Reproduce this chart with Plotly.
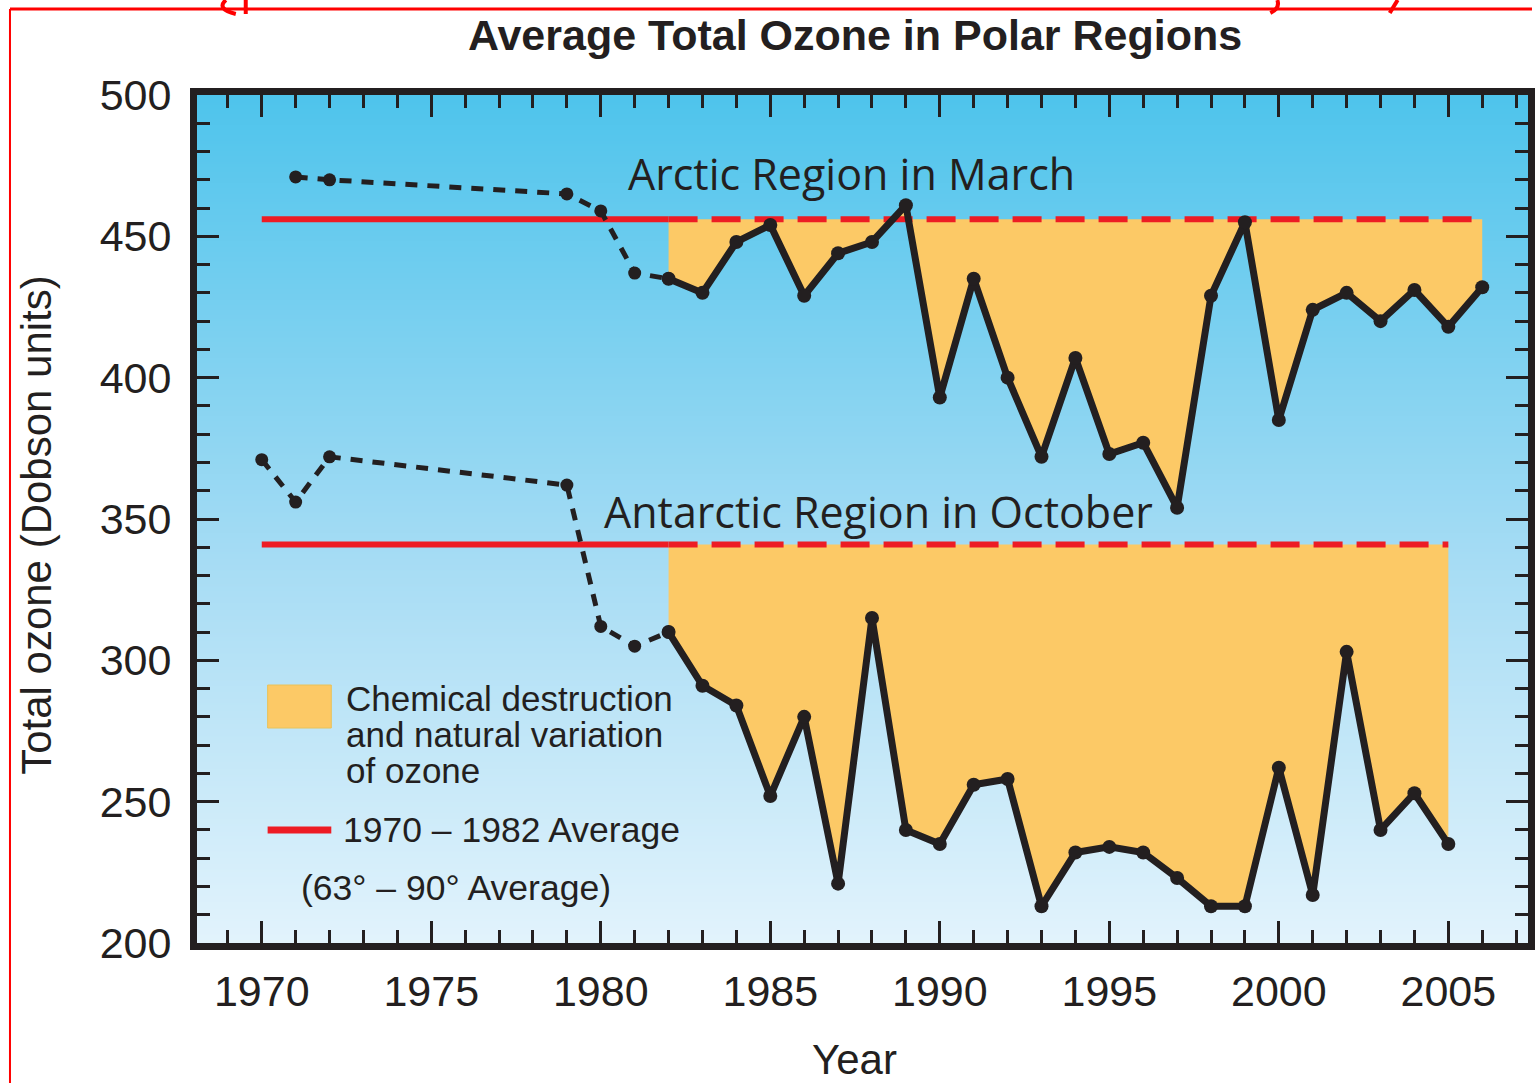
import plotly.graph_objects as go

# ---- data (Dobson units) ----
arctic_years = [1971, 1972, 1979, 1980, 1981, 1982, 1983, 1984, 1985, 1986, 1987,
                1988, 1989, 1990, 1991, 1992, 1993, 1994, 1995, 1996, 1997, 1998,
                1999, 2000, 2001, 2002, 2003, 2004, 2005, 2006]
arctic_values = [471, 470, 465, 459, 437, 435, 430, 448, 454, 429, 444,
                 448, 461, 393, 435, 400, 372, 407, 373, 377, 354, 429,
                 455, 385, 424, 430, 420, 431, 418, 432]

antarctic_years = [1970, 1971, 1972, 1979, 1980, 1981, 1982, 1983, 1984, 1985, 1986,
                   1987, 1988, 1989, 1990, 1991, 1992, 1993, 1994, 1995, 1996, 1997,
                   1998, 1999, 2000, 2001, 2002, 2003, 2004, 2005]
antarctic_values = [371, 356, 372, 362, 312, 305, 310, 291, 284, 252, 280,
                    221, 315, 240, 235, 256, 258, 213, 232, 234, 232, 223,
                    213, 213, 262, 217, 303, 240, 253, 235]

arctic_average = 456       # 1970-1982 March mean
antarctic_average = 341    # 1970-1982 October mean
average_start = 1970
recent_start = 1982        # start of the recent (solid) record

x_ticks = [1970, 1975, 1980, 1985, 1990, 1995, 2000, 2005]
y_ticks = [200, 250, 300, 350, 400, 450, 500]

# ---- styling ----
INK = "#231f20"
RED = "#ed1c24"
ORANGE = "#fcc966"
FONT = "Liberation Sans"

W, H = 1539, 1083
M_L, M_R, M_T, M_B = 197, 4, 95, 140
PW, PH = W - M_L - M_R, H - M_T - M_B


def px(x):
    """page pixel column -> paper x"""
    return (x - M_L) / PW


def py(y):
    """page pixel row -> paper y"""
    return (H - M_B - y) / PH


fig = go.Figure()

# sky-blue backdrop, darker at the top
fig.add_trace(go.Heatmap(
    x=[1968, 2008], y=[200, 500], z=[[0, 0], [1, 1]],
    zsmooth="best", showscale=False, hoverinfo="skip",
    colorscale=[[0.0, "#e2f3fc"], [0.45, "#a6dcf4"], [1.0, "#4ec4ec"]],
))


def split(years, values, start):
    early = [(x, v) for x, v in zip(years, values) if x <= start]
    late = [(x, v) for x, v in zip(years, values) if x >= start]
    return list(zip(*early)), list(zip(*late))


for years, values, avg in [(arctic_years, arctic_values, arctic_average),
                           (antarctic_years, antarctic_values, antarctic_average)]:
    (ex, ev), (lx, lv) = split(years, values, recent_start)
    # depletion area between the long-term mean and the recent record
    fig.add_trace(go.Scatter(
        x=list(lx) + [lx[-1], lx[0]], y=list(lv) + [avg, avg],
        mode="lines", fill="toself", fillcolor=ORANGE,
        line=dict(width=0), hoverinfo="skip", showlegend=False,
    ))
    # 1970-1982 average: solid over the averaging period, dashed afterwards
    fig.add_trace(go.Scatter(
        x=[average_start, recent_start], y=[avg, avg], mode="lines",
        line=dict(color=RED, width=6), showlegend=False, hoverinfo="skip",
    ))
    fig.add_trace(go.Scatter(
        x=[recent_start, lx[-1]], y=[avg, avg], mode="lines",
        line=dict(color=RED, width=6, dash="29px,14px"), showlegend=False, hoverinfo="skip",
    ))
    # early sparse record, dotted
    fig.add_trace(go.Scatter(
        x=ex, y=ev, mode="lines+markers",
        line=dict(color=INK, width=5, dash="12px,10px"),
        marker=dict(color=INK, size=13), showlegend=False,
    ))
    # recent record
    fig.add_trace(go.Scatter(
        x=lx, y=lv, mode="lines+markers",
        line=dict(color=INK, width=7),
        marker=dict(color=INK, size=14), showlegend=False,
    ))

# ---- text inside the plot ----
fig.add_annotation(x=1987.4, y=472.4, text="Arctic Region in March", showarrow=False,
                   font=dict(family="Open Sans", size=43, color=INK))
fig.add_annotation(x=1988.2, y=352.5, text="Antarctic Region in October", showarrow=False,
                   font=dict(family="Open Sans", size=43, color=INK))

# legend key
fig.add_shape(type="rect", xref="paper", yref="paper", x0=px(268), x1=px(332),
              y0=py(728), y1=py(685), fillcolor=ORANGE, line=dict(color="#e8c25a", width=1))
fig.add_shape(type="line", xref="paper", yref="paper", x0=px(268), x1=px(332),
              y0=py(830), y1=py(830), line=dict(color=RED, width=7))
for text, yy in [("Chemical destruction", 698), ("and natural variation", 734),
                 ("of ozone", 770)]:
    fig.add_annotation(xref="paper", yref="paper", x=px(345), y=py(yy), text=text,
                       showarrow=False, xanchor="left", yanchor="middle",
                       font=dict(family=FONT, size=35, color=INK))
fig.add_annotation(xref="paper", yref="paper", x=px(342), y=py(830),
                   text="1970 \u2013 1982 Average", showarrow=False,
                   xanchor="left", yanchor="middle", font=dict(family=FONT, size=35.5, color=INK))
fig.add_annotation(xref="paper", yref="paper", x=px(300), y=py(888),
                   text="(63\u00b0 \u2013 90\u00b0 Average)", showarrow=False,
                   xanchor="left", yanchor="middle", font=dict(family=FONT, size=35.5, color=INK))

# ---- titles ----
fig.add_annotation(xref="paper", yref="paper", x=px(858), y=py(35),
                   xanchor="center", yanchor="middle",
                   text="<b>Average Total Ozone in Polar Regions</b>", showarrow=False,
                   font=dict(family=FONT, size=43, color=INK))
fig.add_annotation(xref="paper", yref="paper", x=px(858), y=py(1059), text="Year",
                   xanchor="center", yanchor="middle",
                   showarrow=False, font=dict(family=FONT, size=42, color=INK))
fig.add_annotation(xref="paper", yref="paper", x=px(35), y=py(525),
                   xanchor="center", yanchor="middle",
                   text="Total ozone (Dobson units)", textangle=-90, showarrow=False,
                   font=dict(family=FONT, size=42, color=INK))

# red outline along the top and left edges of the page, with the cut-off marks above it
RED_MARK = "#ff0000"
fig.add_shape(type="line", xref="paper", yref="paper", x0=px(9), x1=px(1539),
              y0=py(9), y1=py(9), line=dict(color=RED_MARK, width=3))
fig.add_shape(type="line", xref="paper", yref="paper", x0=px(9), x1=px(9),
              y0=py(9), y1=py(1083), line=dict(color=RED_MARK, width=2))
for path in [
    f"M {px(226)},{py(0)} Q {px(216)},{py(9)} {px(236)},{py(14)}",
    f"M {px(246)},{py(0)} L {px(246)},{py(14)}",
    f"M {px(1283)},{py(0)} Q {px(1286)},{py(8)} {px(1276)},{py(13)}",
    f"M {px(1404)},{py(0)} L {px(1396)},{py(13)}",
]:
    fig.add_shape(type="path", xref="paper", yref="paper", path=path,
                  line=dict(color=RED_MARK, width=4))

axis_common = dict(
    showline=True, linewidth=7, linecolor=INK, mirror="ticks",
    ticks="inside", tickwidth=3, tickcolor=INK, ticklen=22,
    showgrid=False, zeroline=False, fixedrange=True,
    tickfont=dict(family=FONT, size=43, color=INK),
)
fig.update_xaxes(range=[1968.09, 2007.35], tickvals=x_ticks, ticklabelstandoff=4,
                 minor=dict(ticks="inside", ticklen=13, tickwidth=3, tickcolor=INK,
                            dtick=1, tick0=1970),
                 **axis_common)
fig.update_yaxes(range=[200, 500], tickvals=y_ticks, ticklabelstandoff=10,
                 minor=dict(ticks="inside", ticklen=13, tickwidth=3, tickcolor=INK,
                            dtick=10, tick0=200),
                 **axis_common)

fig.update_layout(
    width=W, height=H,
    margin=dict(l=M_L, r=M_R, t=M_T, b=M_B),
    paper_bgcolor="white", plot_bgcolor="#a6dcf4",
    showlegend=False,
)

fig.write_html("out.html")
